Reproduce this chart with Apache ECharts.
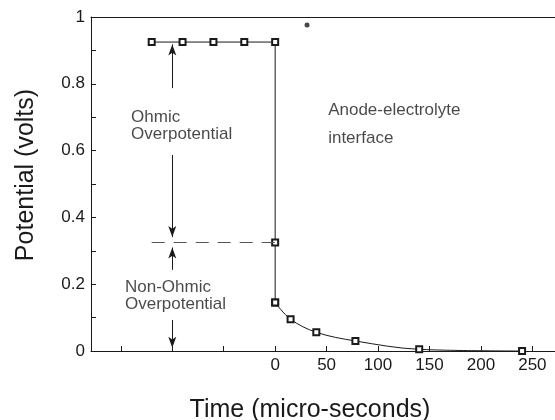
<!DOCTYPE html>
<html>
<head>
<meta charset="utf-8">
<script src="https://cdn.jsdelivr.net/npm/echarts@6/dist/echarts.min.js"></script>
<style>
html,body{margin:0;padding:0;background:#fff;}
#chart{width:555px;height:420px;}
</style>
</head>
<body>
<div id="chart"></div>
<script>
// ---- data ----
const timeSteady = [-120, -90, -60, -30, 0, 0, 0];
const potSteady  = [0.925, 0.925, 0.925, 0.925, 0.925, 0.325, 0.145];
const timeDecay  = [0, 15, 40, 78, 140, 240];
const potDecay   = [0.145, 0.095, 0.056, 0.030, 0.005, 0.0];
const xTickValues  = [-150, -100, -50, 0, 50, 100, 150, 200, 250];
const xLabelValues = [0, 50, 100, 150, 200, 250];
const specX = [31], specY = [0.976];
const annoText = ['Ohmic\nOverpotential', 'Non-Ohmic\nOverpotential', 'Anode-electrolyte\n\ninterface'];
const annoX = [-140, -146, 51.5];
const annoY = [0.675, 0.165, 0.68];
// arrow segments: [x, yFrom, yTo(tip)]
const arrowX = -100;
const arrowFrom = [0.787, 0.587, 0.243, 0.093];
const arrowTo   = [0.918, 0.341, 0.310, 0.010];
const ohmicLevel = 0.325, dashFrom = -120, dashTo = 0;

const ink = '#1a1a1a';
const font = 'Liberation Sans, Arial, Helvetica, sans-serif';

const chart = echarts.init(document.getElementById('chart'), null, {renderer:'canvas'});

const arrowLines = arrowFrom.map((y0, i) => [
  {coord:[arrowX, y0], symbol:'none'},
  {coord:[arrowX, arrowTo[i]], symbol:'arrow', symbolSize:[6, 11]}
]);
arrowLines.push([
  {coord:[dashFrom, ohmicLevel], symbol:'none', lineStyle:{type:[13, 9], color:'#555', width:1}},
  {coord:[dashTo, ohmicLevel], symbol:'none'}
]);

chart.setOption({
  animation:false,
  backgroundColor:'#fff',
  textStyle:{fontFamily:font, color:ink},
  grid:{left:91, right:0, top:17, bottom:69, containLabel:false, outerBoundsMode:'none'},
  xAxis:[{
    type:'value', min:-179, max:272,
    name:'Time (micro-seconds)', nameLocation:'middle', nameGap:47,
    nameTextStyle:{fontSize:25, color:ink, fontFamily:font, padding:[0,26,0,0]},
    axisLine:{show:true, onZero:false, lineStyle:{color:ink, width:1}},
    axisTick:{show:true, inside:true, length:5, lineStyle:{color:ink}, customValues:xTickValues},
    axisLabel:{show:true, fontSize:17, color:ink, fontFamily:font, margin:6, customValues:xLabelValues},
    splitLine:{show:false}
  },{
    type:'value', min:-179, max:272, position:'top',
    axisLine:{show:true, onZero:false, lineStyle:{color:ink, width:1}},
    axisTick:{show:false}, axisLabel:{show:false}, splitLine:{show:false}
  }],
  yAxis:{
    type:'value', min:0, max:1, interval:0.1,
    name:'Potential (volts)', nameLocation:'middle', nameGap:52, nameRotate:90,
    nameTextStyle:{fontSize:25, color:ink, fontFamily:font, padding:[0,0,0,18]},
    axisLine:{show:true, onZero:false, lineStyle:{color:ink, width:1}},
    axisTick:{show:true, inside:true, length:5, lineStyle:{color:ink}},
    axisLabel:{fontSize:17, color:ink, fontFamily:font, margin:6,
      formatter:function(v){ const t=Math.round(v*10); return t%2===0 ? (t===0?'0':t===10?'1':(t/10).toFixed(1)) : ''; }},
    splitLine:{show:false}
  },
  series:[
    {
      name:'Steady', type:'line',
      data: timeSteady.map((t,i)=>[t, potSteady[i]]),
      symbol:'emptyRect', symbolSize:6, showAllSymbol:true,
      lineStyle:{color:ink, width:1}, itemStyle:{color:ink, borderColor:ink, borderWidth:1},
      markLine:{silent:true, animation:false, label:{show:false},
        lineStyle:{color:ink, width:1, type:'solid'}, data: arrowLines}
    },
    {
      name:'Decay', type:'line', smooth:0.35,
      data: timeDecay.map((t,i)=>[t, potDecay[i]]),
      symbol:'emptyRect', symbolSize:6, showAllSymbol:true,
      lineStyle:{color:ink, width:1}, itemStyle:{color:ink, borderColor:ink, borderWidth:1}
    },
    {
      name:'speck', type:'scatter', symbol:'circle', symbolSize:5,
      data: specX.map((x,i)=>[x, specY[i]]), itemStyle:{color:ink}
    },
    {
      name:'notes', type:'scatter', symbolSize:0, silent:true,
      data: annoText.map((s,i)=>({name:s, value:[annoX[i], annoY[i]],
        label: i===2 ? {lineHeight:14} : {}})),
      label:{show:true, position:'inside', align:'left', verticalAlign:'middle',
        formatter:'{b}', fontSize:17, lineHeight:17, color:ink, fontFamily:font}
    }
  ]
});
</script>
</body>
</html>
